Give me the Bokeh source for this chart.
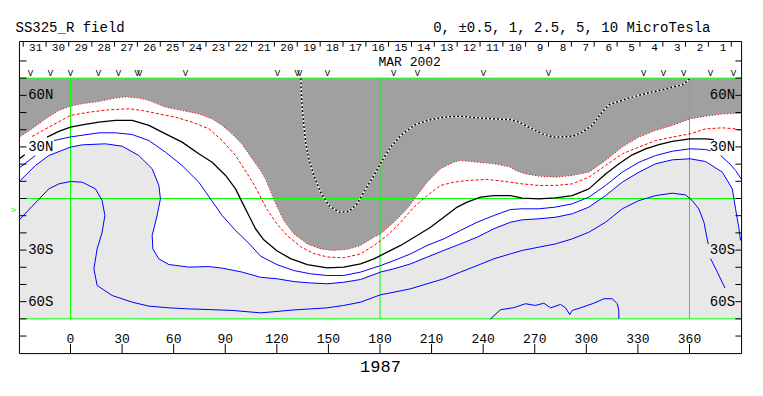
from bokeh.plotting import figure
from bokeh.models import Range1d
from bokeh.core.properties import value
from bokeh.embed import file_html
from bokeh.resources import INLINE

NaN = float("nan")

# ---------------- data ----------------
# outer red dotted contour = edge of dark-gray region
edge_lon = [-29.1, -22.3, -14.5, -6.8, 0, 6.8, 16.5, 26.2, 32.0, 39.7, 45.6, 55.3, 64.9, 74.6, 82.4,
            88.2, 94.0, 99.8, 105.7, 110.5, 113.4, 117.3, 120.2, 124.1, 129.9, 137.7, 145.4, 152.2,
            161.0, 168.7, 176.5, 180.3, 188.1, 195.8, 201.6, 207.4, 215.2, 222.9, 226.8, 236.5,
            246.2, 255.9, 258.8, 264.6, 272.4, 282.1, 291.8, 301.5, 311.2, 320.9, 330.6, 340.3,
            350.0, 360.3, 369.4, 379.1, 390.3]
edge_lat = [36.1, 40.5, 46.3, 51.2, 53.7, 55.1, 56.4, 58.4, 59.1, 58.4, 57.0, 53.1, 51.2, 49.2, 46.3,
            42.5, 37.5, 31.5, 23.0, 16.3, 11.4, 1.7, -5.0, -13.0, -20.6, -26.4, -29.3, -30.2,
            -29.7, -27.3, -22.5, -20.6, -13.8, -6.0, 1.7, 9.5, 17.3, 21.1, 22.1, 21.1,
            20.2, 18.2, 16.3, 14.3, 13.0, 12.4, 13.4, 15.3, 22.1, 29.9, 35.7, 39.6,
            42.5, 46.3, 47.9, 49.1, 49.6]

# second red dotted contour
red2_lon = [-22.3, -12.6, 0, 10.7, 22.3, 33.9, 41.7, 51.4, 61.1, 70.8, 80.5, 88.2, 96.0, 101.8, 106.5,
            110.5, 114.4, 120.2, 126.0, 133.8, 141.5, 149.3, 158.9, 168.7, 176.5, 184.2, 192.0, 199.7,
            207.4, 215.2, 222.9, 230.7, 242.3, 253.0, 262.7, 272.4, 282.1, 291.8, 301.5, 311.2, 320.9,
            330.6, 340.3, 350.0, 360.3, 369.4, 379.1, 386.9, 390.3]
red2_lat = [36.1, 41.5, 48.3, 50.2, 51.6, 52.2, 51.2, 49.2, 47.3, 44.4, 40.5, 33.7, 25.0, 16.0, 8.5,
            1.0, -6.5, -15.0, -21.5, -28.0, -32.0, -34.0, -34.5, -32.2, -27.3, -21.5, -13.8, -5.0,
            1.7, 7.6, 9.5, 10.5, 11.1, 9.9, 8.5, 7.6, 7.6, 8.5, 12.4, 19.2, 26.0,
            29.9, 33.7, 35.7, 37.6, 40.5, 41.1, 40.5, 39.5]

# black solid contour (neutral line)
black_lon = [-29.7, -26.6, NaN, -13.6, -6.8, 0, 6.8, 16.5, 26.2, 35.9, 45.6, 55.3, 64.9, 74.6, 82.4, 90.2,
             96.0, 99.8, 103.7, 107.6, 112.4, 120.2, 128.0, 137.7, 149.3, 158.9, 168.7, 176.5, 184.2,
             192.0, 201.6, 209.4, 217.1, 224.9, 230.7, 238.5, 246.2, 255.9, 262.7, 272.4, 282.1, 291.8,
             301.5, 311.2, 319.0, 326.7, 334.5, 342.2, 350.0, 360.3, 369.4, 374.2]
black_lat = [23.2, 25.4, NaN, 35.7, 39.0, 41.5, 42.8, 44.4, 45.4, 45.4, 42.5, 37.6, 32.8, 26.0, 21.1, 13.4,
             5.6, -2.1, -9.9, -17.6, -24.0, -30.5, -35.0, -38.5, -40.3, -39.9, -38.0, -35.1, -31.2,
             -27.3, -21.5, -16.7, -10.9, -5.0, -2.1, 0.8, 1.7, 1.7, 0.2, -0.2, 0.4, 1.7,
             5.6, 14.3, 20.2, 25.4, 28.9, 31.4, 33.2, 34.7, 34.7, 34.3]

# blue contours
blue1_lon = [-29.7, -20.4, NaN, -9.7, 0, 16.5, 26.2, 35.9, 45.6, 55.3, 64.9, 74.6, 81.4, 88.2, 96.0, 103.7,
             110.5, 120.2, 129.9, 139.6, 149.3, 158.9, 168.7, 180.3, 188.1, 197.8, 207.4, 217.1, 226.8,
             236.5, 246.2, 255.9, 262.7, 272.4, 282.1, 291.8, 301.5, 311.2, 320.9, 330.6, 340.3, 350.0,
             360.3, 369.4, 372.3, NaN, 378.1, 382.9, 386.8, 390.3]
blue1_lat = [17.8, 25.0, NaN, 33.7, 35.8, 38.2, 38.2, 37.2, 33.7, 26.9, 19.2, 9.5, -0.2, -9.9, -18.6, -26.0,
             -33.5, -38.5, -41.9, -43.8, -44.8, -44.8, -42.8, -39.0, -36.1, -32.2, -27.3, -23.5, -18.6,
             -13.8, -9.9, -6.4, -6.0, -6.0, -5.0, -3.1, 0.8, 7.6, 15.3, 21.1, 25.0, 27.5,
             28.9, 28.5, 27.7, NaN, 25.0, 20.7, 16.3, 11.1]

# blue contour bounding the light-gray area
blue2_lon = [-29.7, -20.4, -12.6, 0, 6.8, 20.4, 30.1, 39.7, 47.5, 51.4, 52.3, 50.4, 47.5, 47.9, 51.4, 57.2,
             68.8, 80.5, 88.2, 99.8, 110.5, 120.2, 129.9, 139.6, 149.3, 158.9, 168.7, 180.3, 188.1,
             197.8, 207.4, 217.1, 226.8, 236.5, 246.2, 255.9, 262.7, 272.4, 282.1, 291.8, 301.5, 311.2,
             320.9, 330.6, 340.3, 350.0, 360.3, 369.4, 379.1, 384.9, 386.8, 388.8, 389.7]
blue2_lat = [10.0, 19.2, 25.0, 29.9, 31.2, 31.8, 30.4, 25.0, 17.3, 7.6, -0.2, -9.9, -21.5, -29.3, -35.1, -38.4,
             -39.9, -39.6, -40.5, -42.8, -45.8, -46.7, -48.3, -49.1, -49.6, -48.7, -47.1, -42.8, -40.9,
             -38.0, -34.1, -30.2, -26.4, -22.5, -17.6, -13.8, -12.4, -11.8, -10.9, -8.9, -5.0, 1.7,
             9.5, 15.3, 20.2, 22.5, 23.1, 21.5, 15.3, 5.6, -6.0, -17.6, -24.4]

blue3_lon = [-29.7, -22.3, -12.6, -6.8, 0, 6.8, 14.5, 18.4, 20.0, 18.4, 15.5, 13.6, 15.5, 24.2, 35.9, 45.6,
             57.2, 68.8, 80.5, 94.0, 110.5, 120.2, 129.9, 139.6, 149.3, 158.9, 168.7, 180.3, 188.1, 197.8,
             207.4, 217.1, 226.8, 236.5, 246.2, 255.9, 262.7, 272.4, 282.1, 291.8, 301.5, 311.2, 320.9,
             330.6, 340.3, 350.0, 357.7, 361.6, 365.4, 368.4, 370.3, 370.9, NaN, 372.3, 376.2, 380.6]
blue3_lat = [-12.3, -4.5, 5.6, 8.5, 9.9, 9.5, 5.6, -1.2, -9.9, -19.6, -29.3, -40.9, -50.6, -56.4, -60.3, -62.6,
             -63.6, -64.2, -64.6, -65.1, -66.5, -65.7, -64.8, -64.2, -63.6, -62.2, -60.3, -56.0, -54.5, -52.5,
             -49.6, -46.7, -42.8, -39.0, -35.1, -32.2, -30.2, -28.3, -26.4, -23.5, -19.6, -13.8, -6.0,
             -1.2, 1.7, 3.1, 2.1, -1.2, -6.0, -13.8, -23.5, -26.5, NaN, -35.0, -42.8, -52.0]

blue4_lon = [244.3, 250.1, 257.8, 264.6, 270.4, 275.3, 279.2, 285.0, 287.9, 290.4, 291.8, 296.6, 304.4,
             310.2, 315.1, 318.0, 318.9, 318.9]
blue4_lat = [-70.0, -64.7, -63.5, -61.2, -62.2, -60.9, -63.6, -61.6, -63.6, -67.5, -65.1, -63.6, -60.9,
             -58.3, -58.3, -61.2, -65.1, -70.0]

# black/white dotted line inside the dark-gray region
dot_lon = [134.0, 134.2, 134.8, 135.7, 136.7, 138.6, 141.5, 145.4, 150.3, 156.1, 161.9, 166.7, 170.6, 176.5,
           181.3, 186.2, 192.0, 199.7, 207.4, 217.1, 226.8, 236.5, 246.2, 255.9, 260.8, 268.5, 274.3,
           281.1, 291.8, 297.6, 303.4, 308.3, 313.1, 324.7, 336.4, 348.0, 355.7, 359.2, 360.2]
dot_lat = [70.0, 61.8, 52.2, 42.5, 32.8, 23.1, 13.4, 3.7, -4.1, -7.9, -7.6, -3.1, 3.7, 13.4,
           22.1, 29.9, 36.6, 42.5, 45.4, 47.3, 47.9, 46.9, 46.3, 45.9, 44.4, 40.5, 37.6,
           35.7, 36.1, 38.6, 42.5, 49.2, 54.5, 58.4, 61.5, 64.2, 66.1, 68.6, 70.0]

# axis labels
lon_ticks = [0, 30, 60, 90, 120, 150, 180, 210, 240, 270, 300, 330, 360]
lat_ticks = [-80, -70, -60, -50, -40, -30, -20, -10, 0, 10, 20, 30, 40, 50, 60, 70, 80]
lat_label_vals = [60, 30, -30, -60]
lat_label_text = ["60N", "30N", "30S", "60S"]

# Carrington day grid (March 2002)
days = [31, 30, 29, 28, 27, 26, 25, 24, 23, 22, 21, 20, 19, 18, 17, 16, 15, 14, 13, 12, 11, 10,
        9, 8, 7, 6, 5, 4, 3, 2, 1]
day_bounds = [-27.5, -14.2, -1.0, 12.4, 25.6, 38.9, 52.2, 65.5, 78.8, 92.1, 105.3, 118.6, 131.9, 145.2,
              158.5, 171.8, 185.0, 198.3, 211.6, 224.9, 238.2, 251.5, 264.7, 278.0, 291.3, 304.6,
              317.9, 331.2, 344.5, 357.7, 371.0, 384.3]

# observation markers along the top
v_lon = [-23.3, -11.6, 0.0, 16.3, 27.9, 38.8, 40.2, 66.9, 120.4, 131.9, 133.3, 149.5, 187.9, 201.8,
         240.2, 278.0, 333.3, 344.9, 356.6, 372.2, 385.6]

green_lons = [0, 180, 360]
green_lats = [-70, 0, 70]

title_left = "SS325_R field"
title_right = "0, \u00b10.5, 1, 2.5, 5, 10 MicroTesla"
year_label = "1987"
month_label = "MAR 2002"

# ---------------- figure (ranges span the whole canvas) ----------------
X0, X1 = -29.7, 390.3      # map frame, longitude
Y0, Y1 = -90.2, 91.3       # map frame, latitude
MAP_T, MAP_B = 70, -70
MONO = "Liberation Mono"

p = figure(width=760, height=392, x_range=Range1d(-40.71, 401.3), y_range=Range1d(-112.83, 115.16),
           output_backend="svg", toolbar_location=None, x_axis_type=None, y_axis_type=None,
           min_border=0, min_border_left=0, min_border_right=0, min_border_top=0, min_border_bottom=0,
           title=None)
p.outline_line_color = None
p.background_fill_color = "white"
p.border_fill_color = "white"

# fills
p.quad(left=[X0], right=[X1], bottom=[MAP_B], top=[MAP_T], fill_color="#E8E8E8", line_color=None)
wx = [X0] + blue2_lon + [X1, X1, X0]
wy = [blue2_lat[0]] + blue2_lat + [blue2_lat[-1], MAP_T, MAP_T]
p.patch(wx, wy, fill_color="white", line_color=None)
gx = [X0] + edge_lon + [X1, X1, X0]
gy = [edge_lat[0]] + edge_lat + [edge_lat[-1], MAP_T, MAP_T]
p.patch(gx, gy, fill_color="#A0A0A0", line_color=None)

# green grid
p.segment(x0=green_lons, y0=[MAP_B] * 3, x1=green_lons, y1=[MAP_T] * 3, line_color="#00FF00", line_width=1)
p.segment(x0=[X0] * 3, y0=green_lats, x1=[X1] * 3, y1=green_lats, line_color="#00FF00", line_width=1)

# contours
p.line(edge_lon, edge_lat, line_color="#FF0000", line_width=1, line_dash="1 2")
p.line(red2_lon, red2_lat, line_color="#FF0000", line_width=1, line_dash="3 2")
p.line(black_lon, black_lat, line_color="black", line_width=1.3)
for lx, ly in [(blue1_lon, blue1_lat), (blue2_lon, blue2_lat), (blue3_lon, blue3_lat), (blue4_lon, blue4_lat)]:
    p.line(lx, ly, line_color="#0000FF", line_width=1)
p.line(dot_lon, dot_lat, line_color="white", line_width=1.5)
p.line(dot_lon, dot_lat, line_color="black", line_width=1.5, line_dash="2 2")

# frame box and ticks
p.quad(left=[X0], right=[X1], bottom=[Y0], top=[Y1], fill_color=None, line_color="black", line_width=1)
p.segment(x0=[X0] * len(lat_ticks), y0=lat_ticks, x1=[X0 + 4.1] * len(lat_ticks), y1=lat_ticks,
          line_color="black", line_width=1)
p.segment(x0=[X1 - 3.6] * len(lat_ticks), y0=lat_ticks, x1=[X1] * len(lat_ticks), y1=lat_ticks,
          line_color="black", line_width=1)
p.segment(x0=lon_ticks, y0=[Y0] * len(lon_ticks), x1=lon_ticks, y1=[Y0 + 5.6] * len(lon_ticks),
          line_color="black", line_width=1)
p.segment(x0=day_bounds, y0=[Y1] * len(day_bounds), x1=day_bounds, y1=[Y1 - 3.0] * len(day_bounds),
          line_color="black", line_width=1)

def txt(xs, ys, texts, size, align="center", color="black"):
    p.text(x=xs, y=ys, text=texts, text_font=value(MONO), text_font_size=value(size),
           text_align=align, text_baseline="middle", text_color=color)

txt(lon_ticks, [-81.3] * len(lon_ticks), [str(v) for v in lon_ticks], "13px")
txt([-24.6] * 4, lat_label_vals, lat_label_text, "14px", "left")
txt([386.5] * 4, lat_label_vals, lat_label_text, "14px", "right")

day_x = [(day_bounds[i] + day_bounds[i + 1]) / 2 + (0.6 if days[i] >= 10 else 1.8) for i in range(len(days))]
txt(day_x, [87.6] * len(days), [str(d) for d in days], "11px")
txt([179.1], [79.1], [month_label], "13px", "left")
txt(v_lon, [72.4] * len(v_lon), ["V"] * len(v_lon), "9px")

# titles
txt([-32.0], [99.2], [title_left], "14px", "left")
txt([372.2], [99.2], [title_right], "14px", "right")
txt([180.3], [-97.7], [year_label], "17px")
txt([-33.2], [-7.0], [">"], "9px", "center", "#00FF00")

open("out.html", "w").write(file_html(p, INLINE))
